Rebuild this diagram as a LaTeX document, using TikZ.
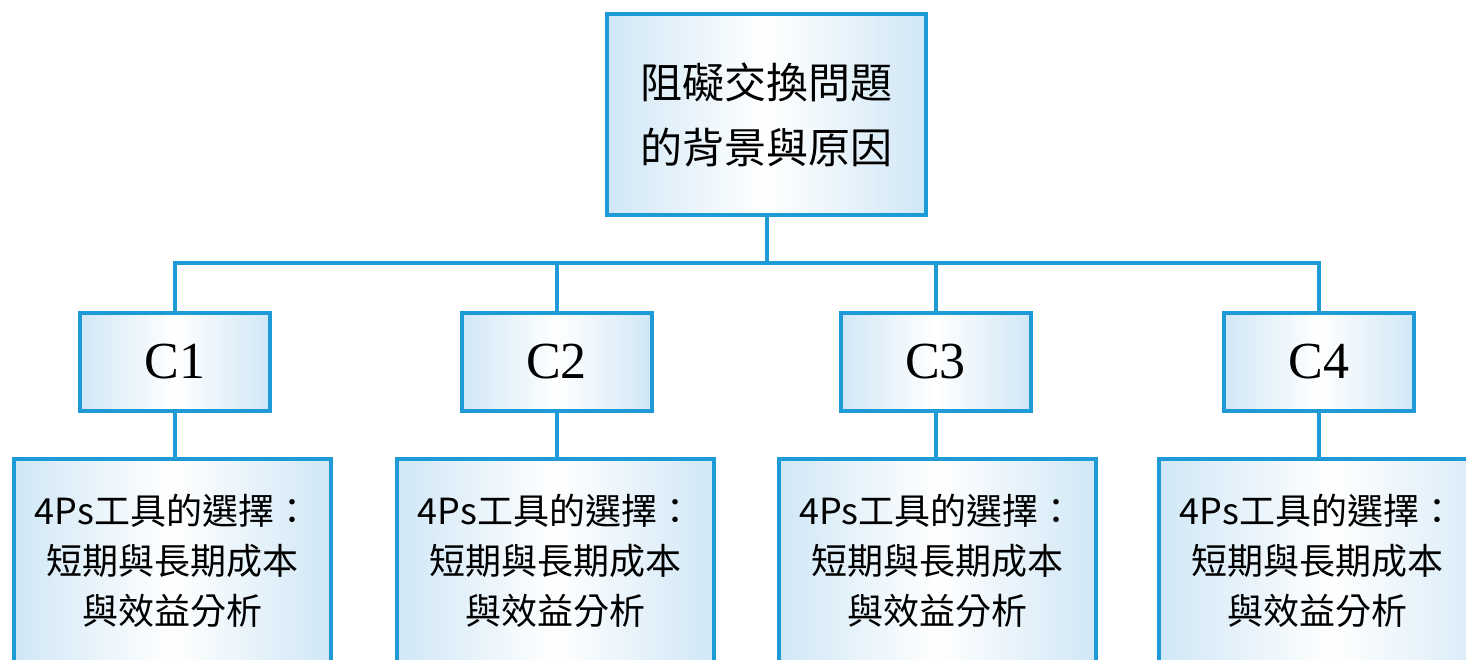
\documentclass[tikz,border=0pt]{standalone}
\usepackage{fontspec}
\setmainfont{Liberation Serif}
\newfontfamily\cjk{Noto Sans CJK TC}
\definecolor{boxline}{RGB}{30,155,215}
\definecolor{boxfill}{RGB}{208,231,246}
\tikzset{
  boxstyle/.style={draw=boxline, line width=2pt, left color=boxfill, right color=boxfill, middle color=white, align=center, inner sep=0pt},
  topbox/.style={boxstyle, minimum width=159.5pt, minimum height=100.5pt, font=\cjk\fontsize{21}{32.5}\selectfont},
  cbox/.style={boxstyle, minimum width=95pt, minimum height=49pt, font=\fontsize{26}{30}\selectfont},
  pbox/.style={boxstyle, minimum width=158.5pt, minimum height=102pt, font=\cjk\fontsize{18}{25}\selectfont},
  link/.style={draw=boxline, line width=2pt}
}
\begin{document}
\begin{tikzpicture}[x=0.5pt, y=-0.5pt]
	\useasboundingbox (0,0) rectangle (1466,659);
	\clip (0,0) rectangle (1466,659);

	\node [topbox] (T) at (766.5,114.5) {阻礙交換問題\\的背景與原因};
	\coordinate (bus) at (766.5,263);

	% last box runs off the right edge, its text pulled back to the middle
	\foreach \i/\x/\bx/\w/\pad in {1/175/172.5/158.5pt/0pt, 2/556.5/555.5/158.5pt/0pt, 3/935.5/937/158.5pt/0pt, 4/1319/1334/175pt/-16.5pt} {
		\node [cbox] (C\i) at (\x,362) {C\i};
		\node [pbox, minimum width=\w] (P\i) at (\bx,561)
			{\hspace*{\pad}4Ps工具的選擇：\\\hspace*{\pad}短期與長期成本\\\hspace*{\pad}與效益分析};
		\draw [link] (C\i.south) -- (C\i.south |- P\i.north);
	}

	\draw [link] (T.south) -- (bus);
	\draw [link] (C1.north) |- (bus) -| (C4.north);
	\draw [link] (C2.north) -- (C2.north |- bus);
	\draw [link] (C3.north) -- (C3.north |- bus);
\end{tikzpicture}
\end{document}
